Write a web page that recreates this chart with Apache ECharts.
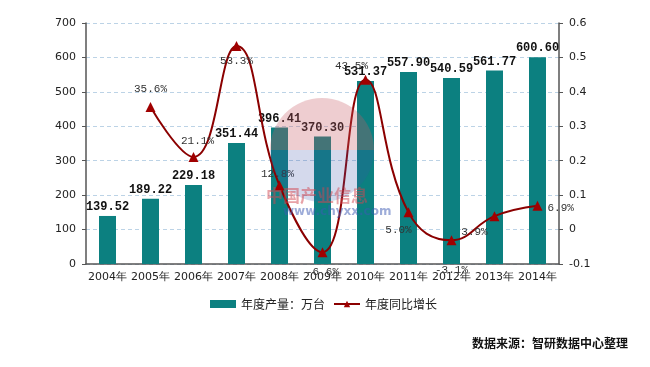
<!DOCTYPE html>
<html><head><meta charset="utf-8">
<script src="https://cdn.jsdelivr.net/npm/echarts@6/dist/echarts.min.js"></script>
<style>html,body{margin:0;padding:0;background:#fff}#c{width:650px;height:367px}</style>
</head><body><div id="c"></div>
<script>
var categories = ['2004年','2005年','2006年','2007年','2008年','2009年','2010年','2011年','2012年','2013年','2014年'];
var production = [139.52, 189.22, 229.18, 351.44, 396.41, 370.30, 531.37, 557.90, 540.59, 561.77, 600.60];
var growth = [null, 0.356, 0.211, 0.533, 0.128, -0.066, 0.435, 0.050, -0.031, 0.039, 0.069];
var leftTicks = [0, 700, 100];
var rightTicks = [-0.1, 0.6, 0.1];
var seriesNames = ['年度产量：万台', '年度同比增长'];
var sourceText = '数据来源：智研数据中心整理';

// label placement for growth labels (style only)
var growthLabelPos = [null, ['top',[0,-2]], ['top',[4,0]], ['bottom',[0,0]], ['top',[-2,4]], ['bottom',[0,4]], ['top',[-14,2]], ['bottom',[-10,2]], ['bottom',[0,14]], ['bottom',[-20,0]], ['right',[0,2]]];

var chart = echarts.init(document.getElementById('c'));
var lineData = growth.map(function(v,i){
  if (v === null) return null;
  var p = growthLabelPos[i];
  return {value: v, label: {position: p[0], offset: p[1]}};
});
var axisLabelStyle = {color:'#222', fontSize:11, fontFamily:'DejaVu Sans, sans-serif'};
chart.setOption({
  animation:false,
  backgroundColor:'#fff',
  graphic:[
    {type:'sector', shape:{cx:322, cy:150, r:52, startAngle:Math.PI, endAngle:2*Math.PI}, style:{fill:'rgba(200,90,100,0.3)'}, z:100},
    {type:'sector', shape:{cx:322, cy:150, r:52, startAngle:0, endAngle:Math.PI}, style:{fill:'rgba(60,80,170,0.22)'}, z:100},
    {type:'text', left:266, top:187, style:{text:'中国产业信息', fill:'rgba(210,70,80,0.5)', font:'bold 17px "Noto Sans CJK SC"'}, z:100},
    {type:'text', left:283, top:206, style:{text:'www.chyxx.com', fill:'rgba(60,90,180,0.5)', font:'bold 12px "DejaVu Sans"'}, z:100},
    {type:'text', left:472, top:337, style:{text:sourceText, fill:'#111', font:'bold 12px "Noto Sans CJK SC"'}}
  ],
  grid:{left:86, right:91, top:23, bottom:103},
  legend:{
    bottom:52, left:205, itemGap:8, itemWidth:26, itemHeight:8,
    textStyle:{color:'#222', fontSize:12, fontFamily:'Noto Sans CJK SC'},
    data:[{name:seriesNames[0], icon:'rect'}, {name:seriesNames[1]}]
  },
  xAxis:{
    type:'category', data:categories,
    axisLine:{lineStyle:{color:'#555', width:1.5}},
    axisTick:{inside:true, length:4, lineStyle:{color:'#555'}},
    axisLabel:Object.assign({interval:0, margin:8}, axisLabelStyle)
  },
  yAxis:[
    {type:'value', min:leftTicks[0], max:leftTicks[1], interval:leftTicks[2],
     axisLine:{show:true, lineStyle:{color:'#555', width:1.5}},
     axisTick:{show:true, length:4, lineStyle:{color:'#555'}},
     axisLabel:Object.assign({margin:10}, axisLabelStyle),
     splitLine:{lineStyle:{color:'#bcd3e6', type:[4,3]}}},
    {type:'value', min:rightTicks[0], max:rightTicks[1], interval:rightTicks[2],
     axisLine:{show:true, lineStyle:{color:'#555', width:1.5}},
     axisTick:{show:true, length:4, lineStyle:{color:'#555'}},
     axisLabel:Object.assign({margin:10, formatter:function(v){ var s=(Math.round(v*10)/10).toFixed(1); return s==='0.0'||s==='-0.0'?'0':s; }}, axisLabelStyle),
     splitLine:{show:false}}
  ],
  series:[
    {name:seriesNames[0], type:'bar', data:production, barWidth:17, itemStyle:{color:'#0c8080'},
     label:{show:true, position:'top', distance:3, color:'#111', fontWeight:'bold', fontSize:12, fontFamily:'Liberation Mono, DejaVu Sans Mono, monospace',
       formatter:function(p){return p.value.toFixed(2);}}},
    {name:seriesNames[1], type:'line', yAxisIndex:1, data:lineData, smooth:0.45, connectNulls:false,
     symbol:'triangle', symbolSize:10, lineStyle:{color:'#8b0000', width:2}, itemStyle:{color:'#a00000'},
     label:{show:true, color:'#333', fontSize:11, fontFamily:'Liberation Mono, DejaVu Sans Mono, monospace',
       formatter:function(p){return (p.value*100).toFixed(1)+'%';}}}
  ]
});
</script></body></html>
